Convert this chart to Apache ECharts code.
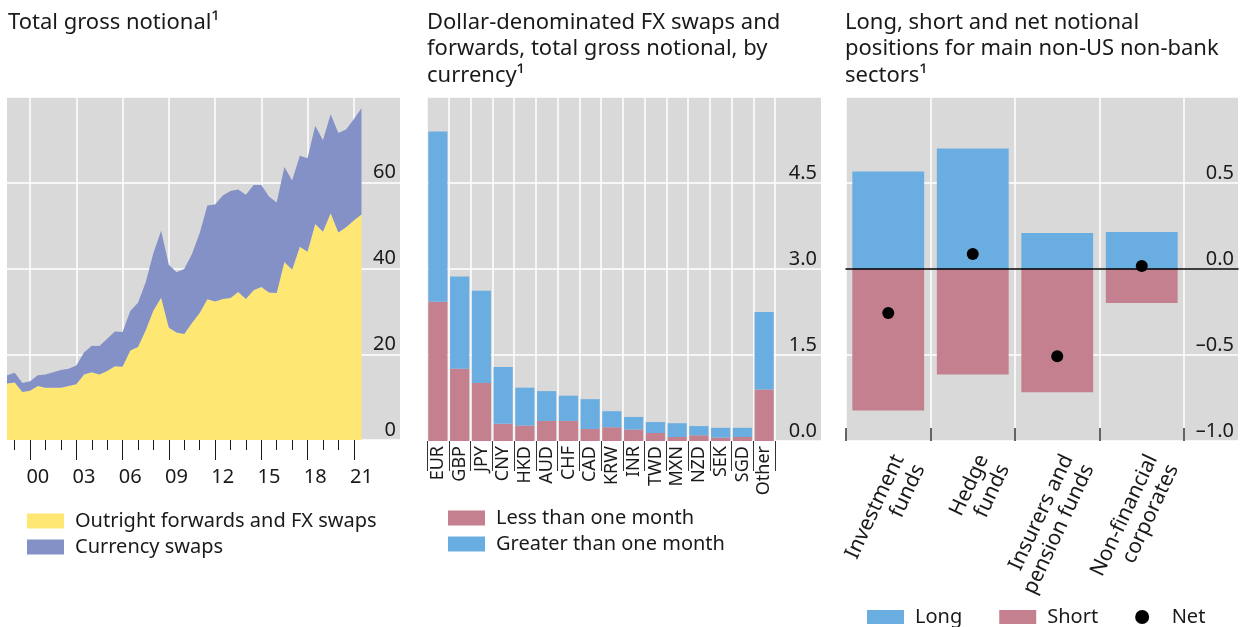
<!DOCTYPE html>
<html>
<head>
<meta charset="utf-8">
<script src="https://cdn.jsdelivr.net/npm/echarts@6/dist/echarts.min.js"></script>
<style>
  html, body { margin: 0; padding: 0; background: #fff; }
  #chart { width: 1242px; height: 627px; }
</style>
</head>
<body>
<div id="chart"></div>
<script>
// left panel: total gross notional, end-June / end-December observations
var periods = [1998.5, 1999.0, 1999.5, 2000.0, 2000.5, 2001.0, 2001.5, 2002.0, 2002.5, 2003.0,
  2003.5, 2004.0, 2004.5, 2005.0, 2005.5, 2006.0, 2006.5, 2007.0, 2007.5, 2008.0,
  2008.5, 2009.0, 2009.5, 2010.0, 2010.5, 2011.0, 2011.5, 2012.0, 2012.5, 2013.0,
  2013.5, 2014.0, 2014.5, 2015.0, 2015.5, 2016.0, 2016.5, 2017.0, 2017.5, 2018.0,
  2018.5, 2019.0, 2019.5, 2020.0, 2020.5, 2021.0, 2021.5];
// empty room on the right of the area chart (axis only)
var extraPeriods = [2022.0, 2022.5, 2023.0, 2023.5, 2024.0];
var outright = [13.2, 13.4, 11.2, 11.5, 12.6, 12.2, 12.2, 12.2, 12.6, 13.0,
  15.3, 15.8, 15.3, 16.1, 17.2, 17.1, 20.9, 21.7, 25.6, 30.2,
  33.2, 26.2, 25.1, 24.7, 27.3, 29.6, 32.8, 32.3, 32.9, 33.1,
  34.5, 32.9, 34.9, 35.7, 34.4, 34.3, 41.5, 39.7, 45.1, 43.9,
  50.4, 48.6, 52.9, 48.4, 49.6, 51.2, 52.6];
var currencySwaps = [1.9, 2.3, 2.1, 2.2, 2.5, 3.1, 3.6, 4.1, 4.0, 4.4,
  5.1, 6.2, 6.6, 7.5, 8.1, 8.1, 9.2, 10.3, 11.2, 13.4,
  15.6, 14.7, 14.0, 15.2, 16.1, 18.6, 21.9, 22.6, 24.1, 25.0,
  23.9, 24.3, 24.6, 23.8, 22.4, 21.1, 22.2, 20.8, 21.2, 21.8,
  22.9, 21.3, 23.1, 23.2, 22.8, 23.6, 24.8];
var majorYears = [2000, 2003, 2006, 2009, 2012, 2015, 2018, 2021];
var minorYears = [1999, 2001, 2002, 2004, 2005, 2007, 2008, 2010, 2011, 2013, 2014, 2016, 2017, 2019, 2020];
var yearLabels = ['00', '03', '06', '09', '12', '15', '18', '21'];

// middle panel: by currency
var currencies = ['EUR', 'GBP', 'JPY', 'CNY', 'HKD', 'AUD', 'CHF', 'CAD', 'KRW', 'INR', 'TWD', 'MXN', 'NZD', 'SEK', 'SGD', 'Other'];
var lessThanMonth = [2.43, 1.26, 1.01, 0.30, 0.27, 0.35, 0.35, 0.21, 0.24, 0.20, 0.14, 0.07, 0.10, 0.06, 0.07, 0.90];
var greaterThanMonth = [2.97, 1.61, 1.61, 0.99, 0.66, 0.52, 0.44, 0.52, 0.28, 0.22, 0.19, 0.24, 0.16, 0.17, 0.16, 1.35];

// right panel: non-bank sectors
var sectors = ['Investment\nfunds', 'Hedge\nfunds', 'Insurers and\npension funds', 'Non-financial\ncorporates'];
var longPos = [0.567, 0.700, 0.210, 0.215];
var shortPos = [-0.823, -0.613, -0.717, -0.198];
var netPos = [-0.256, 0.087, -0.507, 0.017];

var YELLOW = '#fee873';
var PURPLE = '#8391c6';
var PINK = '#c4808f';
var BLUE = '#6aade0';
var GREY = '#d9d9d9';
var TXT = '#1a1a1a';
var FONT = 'Noto Sans';

var axisPeriods = periods.concat(extraPeriods).map(String);

function isMajor(v) { return majorYears.indexOf(Number(v)) >= 0; }
function isMinor(v) { return minorYears.indexOf(Number(v)) >= 0; }
function isLabelPos(v) { return majorYears.indexOf(Number(v) - 0.5) >= 0; }

var chart = echarts.init(document.getElementById('chart'), null, { renderer: 'canvas' });

function valueLabels(fmt) {
  return {
    inside: true, margin: 4, verticalAlign: 'bottom',
    color: TXT, fontSize: 20, fontFamily: FONT, formatter: fmt
  };
}
var whiteSplit = { show: true, interval: 0, lineStyle: { color: '#fff', width: 1.5 } };

// tick-only category axis laid over the area chart
function tickAxis(grid, len, test) {
  return { type: 'category', gridIndex: grid, data: axisPeriods, boundaryGap: false,
    axisLine: { show: false },
    axisTick: { show: true, inside: false, length: len, interval: function (i, v) { return test(v); },
      lineStyle: { color: TXT, width: 1 } },
    axisLabel: { show: false }, splitLine: { show: false } };
}

chart.setOption({
  animation: false,
  textStyle: { fontFamily: FONT },
  title: [
    { text: 'Total gross notional\u00b9', left: 8, top: 9, padding: 0,
      textStyle: { fontSize: 22, fontWeight: 'normal', color: TXT, lineHeight: 26.5 } },
    { text: 'Dollar-denominated FX swaps and\nforwards, total gross notional, by\ncurrency\u00b9', left: 427, top: 9, padding: 0,
      textStyle: { fontSize: 22, fontWeight: 'normal', color: TXT, lineHeight: 26.5 } },
    { text: 'Long, short and net notional\npositions for main non-US non-bank\nsectors\u00b9', left: 845, top: 9, padding: 0,
      textStyle: { fontSize: 22, fontWeight: 'normal', color: TXT, lineHeight: 26.5 } }
  ],
  legend: [
    { data: ['Outright forwards and FX swaps', 'Currency swaps'], orient: 'vertical', left: 27, top: 511,
      itemWidth: 37, itemHeight: 15, itemGap: 6, icon: 'rect', padding: 0,
      textStyle: { fontSize: 20, color: TXT, padding: [0, 0, 0, 6] } },
    { data: ['Less than one month', 'Greater than one month'], orient: 'vertical', left: 448, top: 508,
      itemWidth: 37, itemHeight: 15, itemGap: 6, icon: 'rect', padding: 0,
      textStyle: { fontSize: 20, color: TXT, padding: [0, 0, 0, 6] } },
    { data: [{ name: 'Long', icon: 'rect' }, { name: 'Short', icon: 'rect' }, { name: 'Net', icon: 'circle' }],
      orient: 'horizontal', left: 867, top: 607, itemWidth: 37, itemHeight: 14, itemGap: 37, padding: 0,
      textStyle: { fontSize: 20, color: TXT, width: 62, padding: [0, 0, 0, 6] } }
  ],
  grid: [
    { left: 7, top: 97, width: 393, height: 343, show: true, backgroundColor: GREY, borderWidth: 0 },
    { left: 427, top: 97, width: 394, height: 344, show: true, backgroundColor: GREY, borderWidth: 0 },
    { left: 427, top: 97, width: 348, height: 344 },
    { left: 846, top: 97, width: 392, height: 344, show: true, backgroundColor: GREY, borderWidth: 0 },
    { left: 846, top: 97, width: 338, height: 344 },
    { left: 7, top: 97, width: 393, height: 343 },
    { left: 7, top: 97, width: 393, height: 343 },
    { left: 846, top: 97, width: 338, height: 344 }
  ],
  xAxis: [
    { type: 'category', gridIndex: 0, data: axisPeriods, boundaryGap: false,
      axisLine: { show: false }, axisTick: { show: false },
      axisLabel: { margin: 27, fontSize: 20, color: TXT,
        interval: function (i, v) { return isLabelPos(v); },
        formatter: function (v) { return yearLabels[majorYears.indexOf(Number(v) - 0.5)]; } },
      splitLine: { show: true, interval: function (i, v) { return isMajor(v); },
        lineStyle: { color: '#fff', width: 1.5 } } },
    { type: 'value', gridIndex: 1, min: 0, max: 1, show: false },
    { type: 'category', gridIndex: 2, data: currencies,
      axisLine: { show: false },
      axisTick: { show: true, interval: 0, length: 30, lineStyle: { color: '#333' } },
      axisLabel: { interval: 0, rotate: 90, margin: 5, fontSize: 18, color: TXT },
      splitLine: whiteSplit },
    { type: 'value', gridIndex: 3, min: 0, max: 1, z: 5,
      axisLine: { show: true, onZero: true, lineStyle: { color: '#000', width: 1.5 } },
      axisTick: { show: false }, axisLabel: { show: false }, splitLine: { show: false } },
    { type: 'category', gridIndex: 4, data: sectors,
      axisLine: { show: false }, axisTick: { show: false },
      axisLabel: { interval: 0, rotate: 65, margin: 10, verticalAlign: 'top', align: 'right',
        fontSize: 21, lineHeight: 23, color: TXT },
      splitLine: whiteSplit },
    tickAxis(5, 20, isMajor),
    tickAxis(6, 10, isMinor),
    { type: 'category', gridIndex: 7, data: sectors, z: 4,
      axisLine: { show: false },
      axisTick: { show: true, interval: 0, inside: true, length: 13, lineStyle: { color: '#333', width: 1.5 } },
      axisLabel: { show: false }, splitLine: { show: false } }
  ],
  yAxis: [
    { type: 'value', gridIndex: 0, min: 0, max: 80, interval: 20, position: 'right',
      axisLine: { show: false }, axisTick: { show: false },
      axisLabel: valueLabels(function (v) { return v === 80 ? '' : String(v); }),
      splitLine: whiteSplit },
    { type: 'value', gridIndex: 1, min: 0, max: 6, interval: 1.5, position: 'right',
      axisLine: { show: false }, axisTick: { show: false },
      axisLabel: valueLabels(function (v) { return v === 6 ? '' : v.toFixed(1); }),
      splitLine: whiteSplit },
    { type: 'value', gridIndex: 2, min: 0, max: 6, show: false },
    { type: 'value', gridIndex: 3, min: -1, max: 1, interval: 0.5, position: 'right',
      axisLine: { show: false }, axisTick: { show: false },
      axisLabel: valueLabels(function (v) {
        if (v === 1) return '';
        return v < 0 ? '\u2013' + Math.abs(v).toFixed(1) : v.toFixed(1);
      }),
      splitLine: whiteSplit },
    { type: 'value', gridIndex: 4, min: -1, max: 1, show: false },
    { type: 'value', gridIndex: 5, min: 0, max: 80, show: false },
    { type: 'value', gridIndex: 6, min: 0, max: 80, show: false },
    { type: 'value', gridIndex: 7, min: 0, max: 1, show: false }
  ],
  series: [
    { name: 'Outright forwards and FX swaps', type: 'line', xAxisIndex: 0, yAxisIndex: 0, stack: 'notional',
      data: outright, symbol: 'none', lineStyle: { width: 0 }, color: YELLOW,
      areaStyle: { color: YELLOW, opacity: 1 } },
    { name: 'Currency swaps', type: 'line', xAxisIndex: 0, yAxisIndex: 0, stack: 'notional',
      data: currencySwaps, symbol: 'none', lineStyle: { width: 0 }, color: PURPLE,
      areaStyle: { color: PURPLE, opacity: 1 } },

    { name: 'Less than one month', type: 'bar', xAxisIndex: 2, yAxisIndex: 2, stack: 'ccy',
      data: lessThanMonth, barWidth: '88%', itemStyle: { color: PINK } },
    { name: 'Greater than one month', type: 'bar', xAxisIndex: 2, yAxisIndex: 2, stack: 'ccy',
      data: greaterThanMonth, barWidth: '88%', itemStyle: { color: BLUE } },

    { name: 'Long', type: 'bar', xAxisIndex: 4, yAxisIndex: 4, stack: 'pos',
      data: longPos, barWidth: '85%', itemStyle: { color: BLUE } },
    { name: 'Short', type: 'bar', xAxisIndex: 4, yAxisIndex: 4, stack: 'pos',
      data: shortPos, barWidth: '85%', itemStyle: { color: PINK } },
    { name: 'Net', type: 'scatter', xAxisIndex: 4, yAxisIndex: 4, z: 6,
      data: netPos, symbolSize: 12, itemStyle: { color: '#000', opacity: 1 } }
  ]
});
</script>
</body>
</html>
